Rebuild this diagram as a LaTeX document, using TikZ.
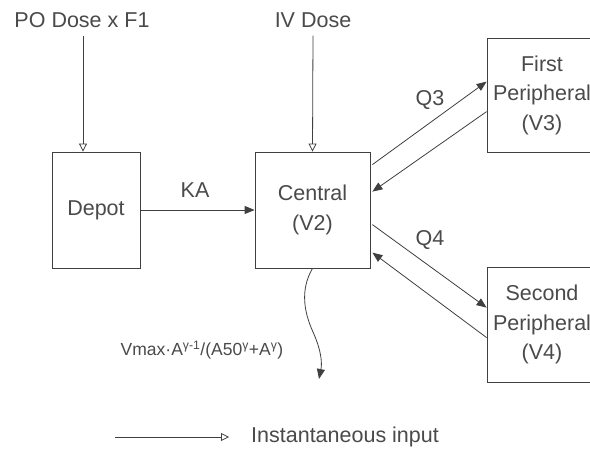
\documentclass[tikz,border=0pt]{standalone}
\usepackage{fontspec}
\setmainfont{Liberation Sans}
\usetikzlibrary{arrows.meta}
\definecolor{txt}{HTML}{4A4A4A}
\definecolor{linec}{HTML}{404040}
\begin{document}
\begin{tikzpicture}[x=1pt,y=-1pt,
  box/.style={draw=linec, line width=0.8pt, inner sep=0pt, align=center, text=txt, font=\fontsize{21.5}{29.5}\selectfont},
  lbl/.style={text=txt, font=\fontsize{21.5}{24}\selectfont, inner sep=0pt},
  flow/.style={draw=linec, line width=0.8pt, -{Triangle[length=10pt,width=8pt]}},
  inst/.style={draw=linec, line width=0.8pt, -{Triangle[open,length=8pt,width=8pt]}}]
\useasboundingbox (0,0) rectangle (590,450);
\clip (0,0) rectangle (590,450);
\fill[white] (0,0) rectangle (590,450);
% boxes
\node[box, minimum width=88pt, minimum height=116pt] (depot) at (96,210) {Depot};
\node[box, minimum width=115pt, minimum height=116pt] (central) at (312.5,210) {Central\\(V2)};
\node[box, minimum width=110pt, minimum height=114pt] (first) at (542,95) {First\\Peripheral\\(V3)};
\node[box, minimum width=110pt, minimum height=115pt] (second) at (542,324.5) {Second\\Peripheral\\(V4)};
% inputs
\node[lbl] (po) at (82,20) {PO Dose x F1};
\node[lbl] (iv) at (313,20) {IV Dose};
\draw[inst] ([yshift=-8pt]po.south -| 83,0) -- (83,0 |- depot.north);
\draw[inst] ([yshift=-8pt]iv.south) -- (central.north);
% absorption
\draw[flow] (depot.east) -- (central.west);
\node[lbl] (ka) at (195,190) {KA};
% distribution
\draw[flow] ([xshift=2pt,yshift=-13pt]central.north east) -- ([yshift=-44pt]first.north west);
\draw[flow] ([yshift=-74pt]first.north west) -- ([xshift=2pt,yshift=-40pt]central.north east);
\node[lbl] (q3) at (430,100) {Q3};
\draw[flow] ([xshift=2pt,yshift=-73pt]central.north east) -- ([yshift=-41pt]second.north west);
\draw[flow] ([yshift=-71pt]second.north west) -- ([xshift=2pt,yshift=-101pt]central.north east);
\node[lbl] (q4) at (430,240) {Q4};
% elimination
\coordinate (elim) at (319,379);
\draw[flow] (central.south) .. controls (300,290) and (304,312) .. (313,332) .. controls (322,352) and (322,364) .. (elim);
\node[lbl, font=\fontsize{17.5}{20}\selectfont] (vmax) at (202,350) {Vmax·A\textsuperscript{γ-1}/(A50\textsuperscript{γ}+A\textsuperscript{γ})};
% legend
\coordinate (l1) at (115,437);
\coordinate (l2) at (229,437);
\draw[inst] (l1) -- (l2);
\node[lbl, anchor=west] (leg) at (251,437) {Instantaneous input};
\end{tikzpicture}
\end{document}
